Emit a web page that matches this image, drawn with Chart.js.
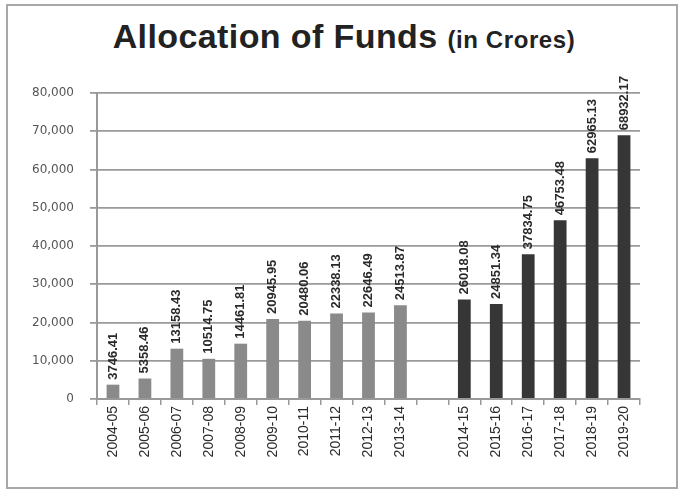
<!DOCTYPE html>
<html>
<head>
<meta charset="utf-8">
<script src="https://cdn.jsdelivr.net/npm/chart.js@4"></script>
<style>
  body { margin: 0; background: #fff; }
  #frame {
    position: absolute; left: 6px; top: 4px; width: 672px; height: 485px;
    box-sizing: border-box; border: 2px solid #a8a8a8;
  }
  #title {
    position: absolute; left: 4px; top: 19px; width: 680px; text-align: center;
    font-family: "Liberation Sans", Arial, sans-serif; font-weight: bold;
    font-size: 34px; line-height: 34px; color: #222; margin: 0; letter-spacing: 0.4px;
  }
  #title span { font-size: 24px; letter-spacing: 0.6px; }
  #wrap { position: absolute; left: 0; top: 0; width: 680px; height: 489px; }
</style>
</head>
<body>
<div id="frame"></div>
<h1 id="title">Allocation of Funds <span>(in Crores)</span></h1>
<div id="wrap"><canvas id="fundsChart"></canvas></div>
<script>
const earlyYears = ['2004-05', '2005-06', '2006-07', '2007-08', '2008-09',
                    '2009-10', '2010-11', '2011-12', '2012-13', '2013-14'];
const earlyFunds = [3746.41, 5358.46, 13158.43, 10514.75, 14461.81,
                    20945.95, 20480.06, 22338.13, 22646.49, 24513.87];
const lateYears = ['2014-15', '2015-16', '2016-17', '2017-18', '2018-19', '2019-20'];
const lateFunds = [26018.08, 24851.34, 37834.75, 46753.48, 62965.13, 68932.17];
const yTicks = [0, 10000, 20000, 30000, 40000, 50000, 60000, 70000, 80000];

// one empty slot between the two groups
const labels = [...earlyYears, '', ...lateYears];
const values = [...earlyFunds, null, ...lateFunds];
const colors = [...earlyFunds.map(() => '#8a8a8a'), '#fff', ...lateFunds.map(() => '#363636')];

const valueLabels = {
    id: 'valueLabels',
    afterDatasetsDraw(chart) {
        const ctx = chart.ctx;
        const meta = chart.getDatasetMeta(0);
        ctx.save();
        ctx.font = 'bold 13px "Liberation Sans", Arial, sans-serif';
        ctx.fillStyle = '#2a2a2a';
        ctx.textAlign = 'left';
        ctx.textBaseline = 'middle';
        meta.data.forEach((bar, i) => {
            const v = values[i];
            if (v == null) return;
            ctx.save();
            ctx.translate(bar.x, bar.y - 5);
            ctx.rotate(-Math.PI / 2);
            ctx.fillText(v.toFixed(2), 0, 0);
            ctx.restore();
        });
        ctx.restore();
    }
};

new Chart(document.getElementById('fundsChart').getContext('2d'), {
    type: 'bar',
    data: {
        labels: labels,
        datasets: [{
            data: values,
            backgroundColor: colors,
            barPercentage: 0.4,
            categoryPercentage: 1.0
        }]
    },
    options: {
        responsive: true,
        maintainAspectRatio: false,
        animation: false,
        layout: { padding: { top: 93, left: 28, right: 40, bottom: 10 } },
        plugins: {
            legend: { display: false },
            tooltip: { enabled: false }
        },
        scales: {
            x: {
                grid: { offset: true, drawOnChartArea: false, color: '#999', tickLength: 6, lineWidth: 1.5 },
                border: { color: '#999', width: 2 },
                ticks: {
                    color: '#2a2a2a',
                    font: { family: '"Liberation Sans", Arial, sans-serif', size: 14 },
                    minRotation: 90, maxRotation: 90, padding: 1, autoSkip: false
                },
                afterFit(scale) { scale.height = 80; }
            },
            y: {
                min: 0, max: 80000,
                afterBuildTicks(scale) { scale.ticks = yTicks.map(v => ({ value: v })); },
                grid: { color: '#9a9a9a', lineWidth: 1.8, tickLength: 7 },
                border: { color: '#999', width: 2 },
                ticks: {
                    color: '#555',
                    padding: 16,
                    font: { family: '"DejaVu Sans", Verdana, sans-serif', size: 12 },
                    callback: v => v.toLocaleString('en-US')
                },
                afterFit(scale) { scale.width = 69; }
            }
        }
    },
    plugins: [valueLabels]
});
</script>
</body>
</html>
